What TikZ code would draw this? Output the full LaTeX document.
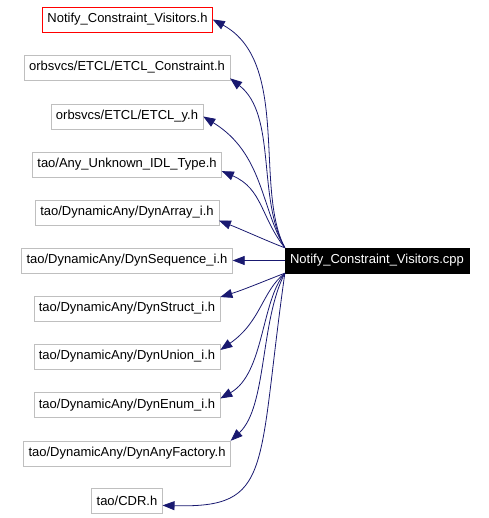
\documentclass[tikz,border=0pt]{standalone}
\usepackage{fontspec}
\setmainfont{Liberation Sans}
\usepackage{tikz}
\usetikzlibrary{arrows.meta}
\definecolor{boxgray}{RGB}{191,191,191}
\definecolor{depblue}{RGB}{25,25,112}

\begin{document}
\begin{tikzpicture}[x=1pt,y=1pt,
  every node/.style={font=\fontsize{13}{15}\selectfont},
  filebox/.style={rectangle,draw=boxgray,minimum height=25pt,inner xsep=5pt,inner ysep=0pt},
  mainbox/.style={filebox,draw=black,fill=black,text=white},
  dep/.style={draw=depblue,line width=0.8pt,-{Triangle[length=12pt,width=9pt]}}
]
  \useasboundingbox (0,0) rectangle (488,-518);
  \node[mainbox] (main) at (377,-260.5) {Notify\_Constraint\_Visitors.cpp};
  \node[filebox,draw=red] (n1) at (127.5,-19.5) {Notify\_Constraint\_Visitors.h};
  \foreach \name/\y/\txt in {
    n2/-67.5/{orbsvcs/ETCL/ETCL\_Constraint.h},
    n3/-116.5/{orbsvcs/ETCL/ETCL\_y.h},
    n4/-164.5/{tao/Any\_Unknown\_IDL\_Type.h},
    n5/-212.5/{tao/DynamicAny/DynArray\_i.h},
    n6/-260.5/{tao/DynamicAny/DynSequence\_i.h},
    n7/-308.5/{tao/DynamicAny/DynStruct\_i.h},
    n8/-356.5/{tao/DynamicAny/DynUnion\_i.h},
    n9/-405/{tao/DynamicAny/DynEnum\_i.h},
    n10/-453.5/{tao/DynamicAny/DynAnyFactory.h},
    n11/-501/{tao/CDR.h}} {
    \node[filebox] (\name) at (127,\y) {\txt};
  }
  % edges above the main box
  \draw[dep] (main.north west) .. controls +(-31,59) and +(78,-42.5) .. (n1.east);
  \draw[dep] (main.north west) .. controls +(-28,49) and +(47,-36.6) .. (n2.-6);
  \draw[dep] (main.north west) .. controls +(-24,40) and +(60,-37) .. (n3.east);
  \draw[dep] (main.north west) .. controls +(-24,30) and +(41,-17.6) .. (n4.-4);
  \draw[dep] (main.north west) .. controls +(-16,6) and +(23,-9) .. (n5.-5);
  \draw[dep] (main.west) -- (n6.east);
  % edges below the main box
  \draw[dep] (main.south west) .. controls +(-16,-6) and +(24,7.5) .. (n7.7);
  \draw[dep] (main.south west) .. controls +(-23,-18) and +(41,28.5) .. (n8.4);
  \draw[dep] (main.south west) .. controls +(-24,-28) and +(44,25) .. (n9.4);
  \draw[dep] (main.south west) .. controls +(-25,-48) and +(36.5,34) .. (n10.north east);
  \draw[dep] (main.south west) .. controls +(-28,-198) and +(111,-3) .. (n11.-7);
\end{tikzpicture}
\end{document}
